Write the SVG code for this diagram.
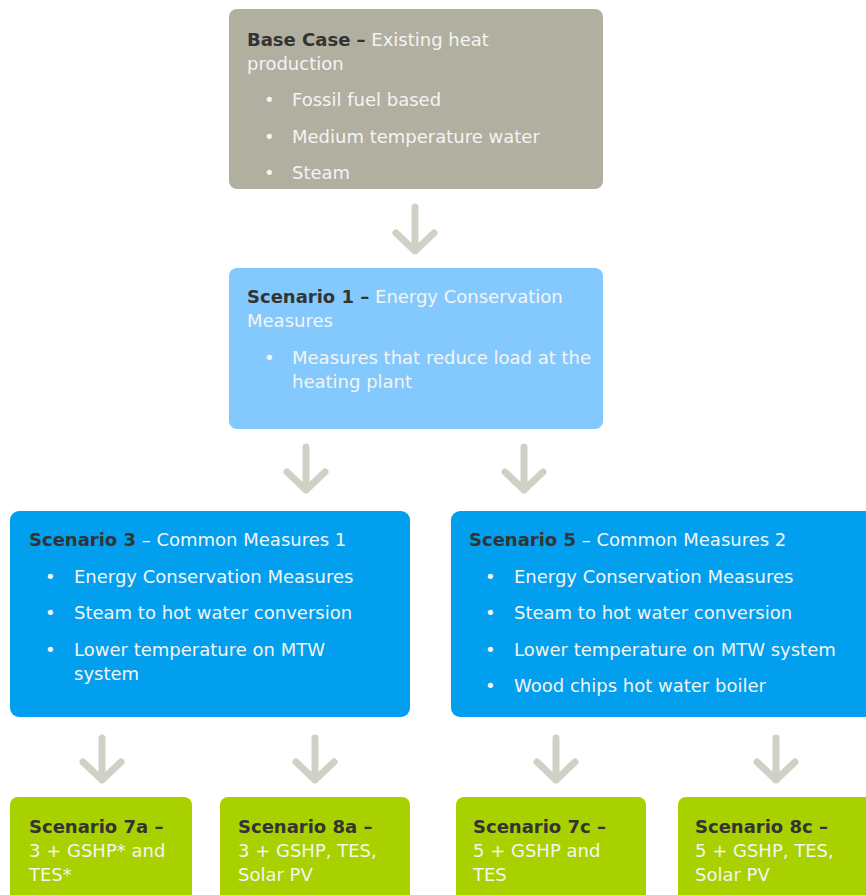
<svg xmlns="http://www.w3.org/2000/svg" width="866" height="895" viewBox="0 0 866 895">
<style>
text{font-family:"DejaVu Sans","Verdana",sans-serif;font-size:18px;fill:#f4f4f4}
.b{font-weight:bold;fill:#333333}
.dot{fill:#f4f4f4}
.arr{fill:none;stroke:#d0d0c7;stroke-width:7;stroke-linecap:round;stroke-linejoin:round}
.base{fill:#b1afa0}
.s1{fill:#84c9fd}
.blue{fill:#019fed}
.green{fill:#a9d100}
</style>
<rect width="866" height="895" fill="#ffffff"/>
<g id="connectors">
<path class="arr" d="M415 207V251M396 233L415 251L434 233"/>
<path class="arr" d="M306 447V490M287 472L306 490L325 472"/>
<path class="arr" d="M524 447V490M505 472L524 490L543 472"/>
<path class="arr" d="M102 738V780M83 762L102 780L121 762"/>
<path class="arr" d="M315 738V780M296 762L315 780L334 762"/>
<path class="arr" d="M556 738V780M537 762L556 780L575 762"/>
<path class="arr" d="M776 738V780M757 762L776 780L795 762"/>
</g>
<g id="base-case">
<rect class="base" x="229" y="9" width="374" height="180" rx="8"/>
<text x="247" y="46"><tspan class="b">Base Case –</tspan> Existing heat</text>
<text x="247" y="70">production</text>
<text x="264" y="106">•</text><text x="292" y="106">Fossil fuel based</text>
<text x="264" y="143">•</text><text x="292" y="143">Medium temperature water</text>
<text x="264" y="179">•</text><text x="292" y="179">Steam</text>
</g>
<g id="scenario-1">
<rect class="s1" x="229" y="268" width="374" height="161" rx="8"/>
<text x="247" y="303"><tspan class="b">Scenario 1 –</tspan> Energy Conservation</text>
<text x="247" y="327">Measures</text>
<text x="264" y="364">•</text><text x="292" y="364">Measures that reduce load at the</text>
<text x="292" y="388">heating plant</text>
</g>
<g id="scenario-3">
<rect class="blue" x="10" y="511" width="400" height="206" rx="9"/>
<text x="29" y="546"><tspan class="b">Scenario 3</tspan> – Common Measures 1</text>
<text x="45" y="583">•</text><text x="74" y="583">Energy Conservation Measures</text>
<text x="45" y="619">•</text><text x="74" y="619">Steam to hot water conversion</text>
<text x="45" y="656">•</text><text x="74" y="656">Lower temperature on MTW</text>
<text x="74" y="680">system</text>
</g>
<g id="scenario-5">
<rect class="blue" x="451" y="511" width="425" height="206" rx="9"/>
<text x="469" y="546"><tspan class="b">Scenario 5</tspan> – Common Measures 2</text>
<text x="485" y="583">•</text><text x="514" y="583">Energy Conservation Measures</text>
<text x="485" y="619">•</text><text x="514" y="619">Steam to hot water conversion</text>
<text x="485" y="656">•</text><text x="514" y="656">Lower temperature on MTW system</text>
<text x="485" y="692">•</text><text x="514" y="692">Wood chips hot water boiler</text>
</g>
<g id="scenario-7a">
<rect class="green" x="10" y="797" width="182" height="110" rx="8"/>
<text x="29" y="833" class="b">Scenario 7a –</text>
<text x="29" y="857">3 + GSHP* and</text>
<text x="29" y="881">TES*</text>
</g>
<g id="scenario-8a">
<rect class="green" x="220" y="797" width="190" height="110" rx="8"/>
<text x="238" y="833" class="b">Scenario 8a –</text>
<text x="238" y="857">3 + GSHP, TES,</text>
<text x="238" y="881">Solar PV</text>
</g>
<g id="scenario-7c">
<rect class="green" x="456" y="797" width="190" height="110" rx="8"/>
<text x="473" y="833" class="b">Scenario 7c –</text>
<text x="473" y="857">5 + GSHP and</text>
<text x="473" y="881">TES</text>
</g>
<g id="scenario-8c">
<rect class="green" x="678" y="797" width="198" height="110" rx="8"/>
<text x="695" y="833" class="b">Scenario 8c –</text>
<text x="695" y="857">5 + GSHP, TES,</text>
<text x="695" y="881">Solar PV</text>
</g>
</svg>
